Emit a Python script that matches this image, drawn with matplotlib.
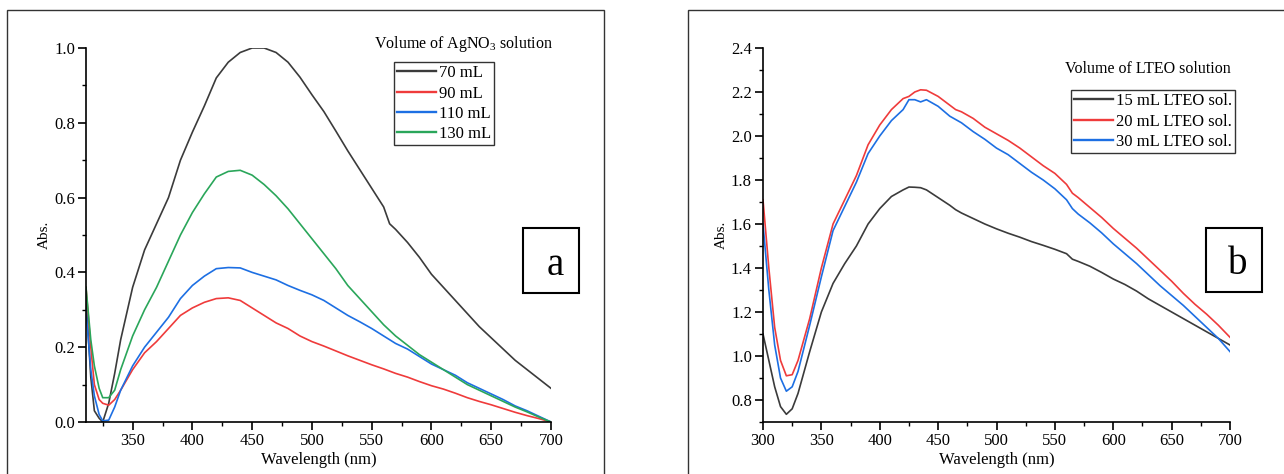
import matplotlib
matplotlib.use("Agg")
import matplotlib.pyplot as plt
from matplotlib.patches import Rectangle
from matplotlib.ticker import MultipleLocator

plt.rcParams['font.family'] = ['Liberation Serif', 'DejaVu Serif']
plt.rcParams['mathtext.fontset'] = 'custom'
plt.rcParams['mathtext.rm'] = 'Liberation Serif'
plt.rcParams['mathtext.it'] = 'Liberation Serif:italic'

# panel a: AgNO3 volume series
wl_a = [311, 315, 318, 322, 325, 330, 335, 340, 350, 360, 370, 380, 390, 400,
        410, 420, 430, 440, 450, 460, 470, 480, 490, 500, 510, 520, 530, 540,
        550, 560, 565, 570, 580, 590, 600, 610, 620, 630, 640, 650, 660, 670,
        680, 690, 700]
abs_70 = [0.33, 0.12, 0.03, 0.01, 0.0, 0.05, 0.13, 0.22, 0.36, 0.46, 0.53,
          0.60, 0.70, 0.775, 0.845, 0.92, 0.962, 0.988, 1.0, 1.0, 0.988, 0.962,
          0.922, 0.875, 0.83, 0.778, 0.725, 0.675, 0.625, 0.575, 0.53, 0.515,
          0.48, 0.44, 0.395, 0.36, 0.325, 0.29, 0.255, 0.225, 0.195, 0.165,
          0.14, 0.115, 0.09]
abs_90 = [0.36, 0.20, 0.10, 0.06, 0.05, 0.045, 0.06, 0.085, 0.14, 0.185,
          0.215, 0.25, 0.285, 0.305, 0.32, 0.33, 0.332, 0.325, 0.305, 0.285,
          0.265, 0.25, 0.23, 0.215, 0.203, 0.19, 0.177, 0.165, 0.153, 0.142,
          0.136, 0.13, 0.12, 0.108, 0.097, 0.088, 0.077, 0.065, 0.055, 0.046,
          0.036, 0.026, 0.017, 0.009, 0.0]
abs_110 = [0.30, 0.14, 0.07, 0.02, 0.003, 0.005, 0.04, 0.085, 0.15, 0.20,
           0.24, 0.28, 0.33, 0.365, 0.39, 0.41, 0.413, 0.412, 0.40, 0.39,
           0.38, 0.365, 0.352, 0.34, 0.325, 0.305, 0.285, 0.268, 0.25, 0.23,
           0.22, 0.21, 0.195, 0.175, 0.155, 0.14, 0.125, 0.105, 0.09, 0.075,
           0.06, 0.043, 0.03, 0.015, 0.0]
abs_130 = [0.36, 0.22, 0.15, 0.09, 0.065, 0.065, 0.085, 0.14, 0.23, 0.30,
           0.36, 0.43, 0.50, 0.56, 0.61, 0.655, 0.67, 0.673, 0.66, 0.635,
           0.605, 0.57, 0.53, 0.49, 0.45, 0.41, 0.365, 0.33, 0.295, 0.26,
           0.245, 0.23, 0.205, 0.18, 0.16, 0.14, 0.12, 0.10, 0.085, 0.07,
           0.055, 0.04, 0.027, 0.013, 0.0]
labels_a = ['70 mL', '90 mL', '110 mL', '130 mL']

# panel b: LTEO volume series
wl_b = [300, 305, 310, 315, 320, 325, 330, 340, 350, 360, 370, 380, 390, 400,
        410, 420, 425, 430, 435, 440, 450, 460, 465, 470, 480, 490, 500, 510,
        520, 530, 540, 550, 560, 565, 570, 580, 590, 600, 610, 620, 630, 640,
        650, 660, 670, 680, 690, 700]
abs_15 = [1.10, 0.98, 0.86, 0.77, 0.735, 0.76, 0.83, 1.02, 1.20, 1.33, 1.42,
          1.50, 1.60, 1.67, 1.725, 1.755, 1.768, 1.767, 1.765, 1.755, 1.72,
          1.685, 1.665, 1.65, 1.625, 1.60, 1.578, 1.558, 1.54, 1.52, 1.503,
          1.485, 1.465, 1.44, 1.43, 1.408, 1.38, 1.35, 1.325, 1.295, 1.26,
          1.23, 1.20, 1.17, 1.14, 1.11, 1.08, 1.05]
abs_20 = [1.71, 1.40, 1.13, 0.98, 0.91, 0.915, 0.98, 1.17, 1.40, 1.60, 1.71,
          1.82, 1.96, 2.05, 2.12, 2.17, 2.18, 2.20, 2.21, 2.208, 2.18, 2.14,
          2.12, 2.11, 2.08, 2.04, 2.01, 1.98, 1.945, 1.905, 1.865, 1.83, 1.78,
          1.74, 1.72, 1.675, 1.63, 1.58, 1.535, 1.49, 1.44, 1.39, 1.34, 1.285,
          1.235, 1.19, 1.14, 1.085]
abs_30 = [1.60, 1.30, 1.05, 0.90, 0.84, 0.86, 0.93, 1.14, 1.36, 1.57, 1.68,
          1.79, 1.92, 2.00, 2.07, 2.12, 2.165, 2.165, 2.155, 2.165, 2.135,
          2.09, 2.075, 2.06, 2.02, 1.985, 1.945, 1.915, 1.875, 1.835, 1.80,
          1.76, 1.71, 1.67, 1.645, 1.605, 1.56, 1.51, 1.465, 1.42, 1.37, 1.32,
          1.275, 1.23, 1.18, 1.13, 1.08, 1.02]
labels_b = ['15 mL LTEO sol.', '20 mL LTEO sol.', '30 mL LTEO sol.']

colors = ['#3b3b3b', '#ef3b3b', '#1d6fe3', '#2aa65a']

W, H = 1284, 474
fig = plt.figure(figsize=(W / 100, H / 100), dpi=100)


def fx(px):
    return px / W


def fy(py):
    return 1 - py / H


# outer panel frames (open at the bottom / right edge of the canvas)
fig.patches.append(Rectangle((fx(7), fy(490)), fx(604 - 7), 480 / H,
                             transform=fig.transFigure, fill=False,
                             edgecolor='#333333', linewidth=1.0))
fig.patches.append(Rectangle((fx(688), fy(490)), fx(700), 480 / H,
                             transform=fig.transFigure, fill=False,
                             edgecolor='#333333', linewidth=1.0))

ax_a = fig.add_axes([fx(86), fy(422), fx(551 - 86), (422 - 48) / H])
ax_b = fig.add_axes([fx(763), fy(422), fx(1230 - 763), (422 - 48) / H])


def style(ax):
    for s in ('top', 'right'):
        ax.spines[s].set_visible(False)
    for s in ('left', 'bottom'):
        ax.spines[s].set_linewidth(1.2)
    ax.tick_params(which='major', direction='out', length=5.5, width=1.2,
                   labelsize=12, pad=2.5)
    ax.tick_params(which='minor', direction='out', length=3, width=1.0)
    ax.xaxis.set_major_locator(MultipleLocator(50))
    ax.xaxis.set_minor_locator(MultipleLocator(25))
    ax.yaxis.set_major_locator(MultipleLocator(0.2))
    ax.yaxis.set_minor_locator(MultipleLocator(0.1))
    ax.yaxis.set_major_formatter(plt.FormatStrFormatter('%.1f'))
    ax.set_xlabel('Wavelength (nm)', fontsize=12, labelpad=2)
    ax.set_ylabel('Abs.', fontsize=11, labelpad=2)


for ys, lab, c in zip([abs_70, abs_90, abs_110, abs_130], labels_a, colors):
    ax_a.plot(wl_a, ys, color=c, lw=1.2, label=lab)
ax_a.set_xlim(311, 700)
ax_a.set_ylim(0, 1.0)
style(ax_a)

for ys, lab, c in zip([abs_15, abs_20, abs_30], labels_b, colors[:3]):
    ax_b.plot(wl_b, ys, color=c, lw=1.2, label=lab)
ax_b.set_xlim(300, 700)
ax_b.set_ylim(0.7, 2.4)
style(ax_b)


def add_legend(ax, x0, y0, title, tx, ty):
    leg = ax.legend(loc='upper left', bbox_to_anchor=(fx(x0), fy(y0)),
                    bbox_transform=fig.transFigure, borderaxespad=0,
                    fontsize=12, frameon=True, fancybox=False,
                    handlelength=2.3, handletextpad=0.2, borderpad=0.2,
                    labelspacing=0.25)
    leg.get_frame().set_edgecolor('black')
    leg.get_frame().set_linewidth(1.0)
    for ln in leg.get_lines():
        ln.set_linewidth(1.7)
    fig.text(fx(tx), fy(ty), title, ha='center', va='center', fontsize=11.5)


add_legend(ax_a, 394, 62, 'Volume of AgNO$_3$ solution', 464, 44)
add_legend(ax_b, 1071, 90, 'Volume of LTEO solution', 1148, 69)


def tag(x0, x1, y0, y1, letter):
    fig.patches.append(Rectangle((fx(x0), fy(y1)), fx(x1 - x0), (y1 - y0) / H,
                                 transform=fig.transFigure, fill=False,
                                 edgecolor='black', linewidth=1.5))
    fig.text(fx((x0 + x1) / 2 + 4), fy((y0 + y1) / 2 + 5), letter,
             ha='center', va='center', fontsize=28)


tag(523, 579, 228, 293, 'a')
tag(1206, 1262, 228, 292, 'b')

fig.savefig('out.png', dpi=100)
